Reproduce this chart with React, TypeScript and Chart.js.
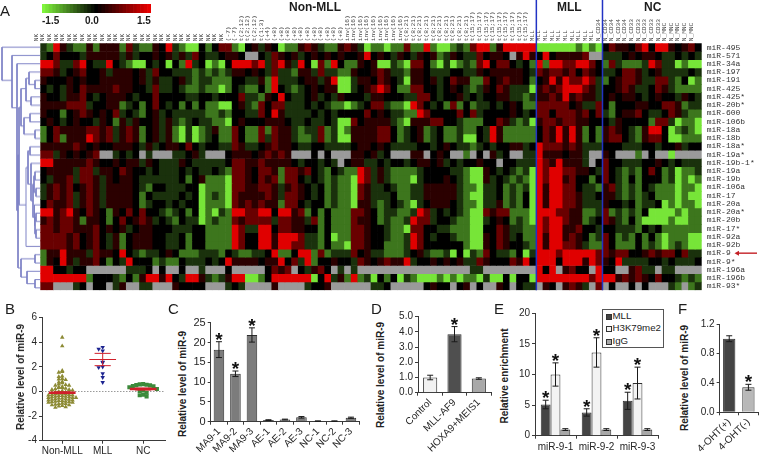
import React, { useEffect, useRef } from "react";
import { Chart, registerables } from "chart.js";

Chart.register(...registerables);
Chart.defaults.font.family = '"Liberation Sans", Arial, sans-serif';
Chart.defaults.color = "#262626";

/* ---------- panel A data ---------- */
const mirNames = ["miR-495", "miR-571", "miR-34a", "miR-197", "miR-191", "miR-425", "miR-425*", "miR-20b*", "miR-600", "miR-106b", "miR-18a", "miR-18b", "miR-18a*", "miR-19a*", "miR-19b-1*", "miR-19a", "miR-19b", "miR-106a", "miR-17", "miR-20a", "miR-20a*", "miR-20b", "miR-17*", "miR-92a", "miR-92b", "miR-9", "miR-9*", "miR-196a", "miR-196b", "miR-93*"];
const columnGroups: [string, number][] = [["NK", 29], ["(-7)", 2], ["t(2;12)", 3], ["t(1;3)", 1], ["(+4)", 1], ["(+8)", 11], ["inv(16)", 9], ["t(8;21)", 10], ["t(15;17)", 9], ["MLL", 10], ["N_CD34", 5], ["N_CD33", 5], ["N_MNC", 5]];
const columnLabels = columnGroups.flatMap(([name, n]) => Array.from({ length: n }, () => name));
// G/g/d = bright, mid, dark green; k = black; m/r/R = dark, mid, bright red; . = missing
const heatLevels: Record<string, number | null> = { G: -1.4, g: -0.72, d: -0.3, k: 0, m: 0.28, r: 0.68, R: 1.45, ".": null };
const heatRows = [
  "dgRmdggmgmmmgrdggmkRdgGGk gkrrgGkmdmkGggmrmdggmrmdGg gGggrggRgGGgdgrRRgmRRRRR GGGGGGgGgG krmmkrRkRRmkmrk",
  "dkrkkkdmmmmmdmdkkmkmdmdrk ddkmmk..kdrmkmdkmkmkmkkmRk mkdmkdmkmgdmkddrkmmk.mRm kRkmmmmr.. dddkmkmmkddkdkd",
  "RRrddrRkddRkdgGGkdkGkgRdk GgGkRRRrRdrRmdRkGrgRkggmkm GGdgGrrkgGdGgdgrRkrrkdkg RgRRrrRRrk grdgggdRrddGgGG",
  "rrmdkmrkkmdmmmkmdrkkdddgd gdgdmmkmkdrddgmmdrddggmkkm rmddgmmkdddkkddmkmmmmmkd rmrrmrkrmk ddkrrmdkmddddkd",
  "mkkkmkmkkmmmmmkmdmddkmdgd dgggkkddmgRdddkmmdmRGGdmmk rmkdGmmkmdkrmmggrkmrmmkg kmRmRrrRrd gkmrrmddrrdgkGg",
  "kdkdmkrmmmmrmmkkdrddkdggd ggGgkdggkgRkdgdkmkmmGGdkmr RrkggrrkkdkmkdgdmkrmdddG mrmrRRRrmd kkmrmddkrmdgggg",
  "mkkdmmrkdkmmmkdkkrkkkkddk kdkkkrddgmkRkddkmdkdmkkkdm mkkkddrrkdkkmdkdkkmmddgd mmrmRmrmmd kmkmmkdkmkkdmkd",
  "mmmmrrrdkkmmgdkgkrkdkgkgk ggGGkmdgrkrrdddkdkdggGgdkr rdggGRrkdkgrgkgddkdkmkgg rrrrrkmddr kgkkkmmkkrrmgdd",
  "mkkgkmrmkmkrdkdgkmdkddddd ggdgkkddrkRmddddkdkdkkkkrk mkddggRrkkkkrkrdkkkkmkdk rrkrrrmrkr dgkmmrkddkrmdgg",
  "kmkdkmkkdmkgmdmkkmdmdgdkd dggGkmkkkmmmkddkddkdGGrkmm mmdgGmmmrrkkdgggkkrmdgdG mrrmrrmmkk kdmkkkkgrrdGggG",
  "gkrmmmmrrmrdmrmgkmdmgGdGg dmggrkggrgrmmdgddrgdGgmmmm rrkgdkmgdkggdggkdRmggggg krmRmRmgkg mrmkdgmRRkGgdgG",
  "gkrgmmmRrmrdmrmgkmdmgGdGg dkggrkggrdrmmdggdrgdGGmmmm rrkgdkmgdkggdGGkdRmggggg krmRmRmgkg mrrkdgmrrkGGggg",
  "mmmmmrmkmkkmmmkdmdkmmkrkd kkddrmddkmrmmkddkkddddkmmk mkddddkkdkmkddgdkdkkmmdk Rrrrmrmddd kkkdddkkdkkmdkk",
  "rrdmkmkmr..dkdk.d...ddkmd ...kmmmkmrmrm...k.k...mmkm dk...mm.kmk..g.k.mdk..dd Rmmmkmmd.. mk...g.k..G....",
  "RRmmmmmrmkkmkmmdmkdddmkdd dddkrrmmrmmmmkdkkdkd.kmmdd kdkkdkmmkmdkdkkmkk.kkddd RrmRmmmd.k rkkdddkkmkdkddd",
  "kmmmmdrrdmmkrmkkdkdddkdkd dkdgrrmkrrmgrrmrkdgkdggRrd mdggggdkkkkddgGGmkdkdgdG RrRRrrmmkd rkdgdgkrkgdGggd",
  "kdmmrdrrmdmkmmkddddddkgkm gggGrrmkrmrgrrkdkdgdggGRrd mdgggGdkkkmkdgGGmdkdgdgG RrRRmrkkgk rkdgkgkkkgdGgGg",
  "dmrmrkmrmdmmmmkdgkkdddkkG gggGrrmmrrmdmrmkdkgdggGrmd dkdggddmmmmmdggGddkgdgdG RmRRrrkddg mrdgdgkdgggGggG",
  "dmrmrdmrmdmmmmkgkddddkdkG gdgGrmmmmrmdrrmkdkgdggGrmd ddkggddmmmmmdgGGddkgdgkG RmRRrrmddk mmdgdgdkgggGgGG",
  "krmmrdmrmdmmmmkgdkkdkdkkG gggGrmrmrmmgrrkdkkgdggGmmd gdkdgGdkmmmkdggGddmgdgkG RmRRrrmddd mkkdkgddkGgGggG",
  "RRmrRmkrmkgmkrkrkkdgdkgkG gGdgRRrrRRkRRmrgkgkgggrrmk gddggdRrdkdkdgGGrmrrgggG RRRrrmmggd rgdgdgkGGGGgGgg",
  "mrmrrmgmmkgkrkmrmdkdgkddG gdggrmrrrrdrrmmdrgkgggrmmk gdggdRrrdkkdggGGdkmkgdgG RrRRrmmgdk rmdgkgGGGGgGGgg",
  "rrmrrmmmrkmkmdkmmkkkdddkk ggggRrddRRkrrmmkkgkgggrrmk kdggGrrkkddgggGGkkrmddgg RrRRmmrkkd kkdddgkdkgggggg",
  "rrrrmrkmrkdmgkmmmkkddkgkk ggggRrkkRRmRRRrddgkGggrrmk kdggdRrkdkkdggGGmkrmdkgg RmRRmrmkgd rkgdgkgkgGgggGG",
  "rrrrmrkmrkdmgkmmmkkddkgkk ggggRrkkRRmRRrrddgkggGrrmk kgggdRrkkkkkkgGGmkrmkkdg RmRRrrmdgg rkgggkgdgGgdgGG",
  "gmmRmmmdrmmkRkdgddkmkgggd ddgkdggddkRggkRRgrgdddrkmd dgggdkmdggdGkGdgrkddgkGd RRRrRRRRRr rmrrkkmrmrrkrdd",
  "gmkRmdmmrkgkdRkkkgdggkddd kdkRmmmmkmmRkrdRgkkmkkdrmk mrmmRdkkmkmkmddrmkkkrmRk RRRkRRRmRr mkRddddkkdkdddk",
  "RRkkdkk......dddk.k..k..d ...k.....krmr.kdmrk.d.d... ..............dd........ RkR.mrkk.R kk..mrdd.dd....",
  "RRRRRRRgkkkdgkgmRRmRkdRRm dgdmRRGGgkRRRRRRGkRdmgRgdG kgkGdgGGGgGgGggGdGGkGkkG RRRRRRRRrR RRmrmrmkrkkdgdg",
  "rr...dk.kk.dm..dd...mkkkk ...dkd....m....dkkm......d dk.....kmkk.km.k..mk.kdd .mk.mrmd.r .k..k.k...dg.gd",
];
const colourBarSteps = [-1.5, -1.4, -1.3, -1.2, -1.1, -1.0, -0.9, -0.8, -0.7, -0.6, -0.5, -0.4, -0.3, -0.2, -0.1, 0, 0.1, 0.2, 0.3, 0.4, 0.5, 0.6, 0.7, 0.8, 0.9, 1.0, 1.1, 1.2, 1.3, 1.4, 1.5];
const clusterDividers = [75, 85];
// dendrogram links: child-a depth, row a, node depth, row b, child-b depth
const dendroLinks = [
  [40, 4, 35, 5, 40], [40, 3, 29, 4.5, 35], [40, 6, 31, 7, 40], [29, 3.75, 26, 6.5, 31],
  [40, 8, 30, 9, 40], [40, 10, 35, 11, 40], [30, 8.5, 24, 10.5, 35], [26, 5, 21, 9.5, 24],
  [40, 12, 30, 13, 40], [40, 15, 35, 16, 40], [40, 17, 36, 18, 40], [35, 15.5, 34, 17.5, 36],
  [40, 20, 36, 21, 40], [40, 22, 36, 23, 40], [36, 20.5, 35, 22.5, 36], [40, 19, 34.5, 21.5, 35],
  [34, 16.5, 33, 20.5, 34.5], [40, 14, 31, 18.5, 33], [30, 12.5, 28, 16.5, 31], [40, 24, 26, 14.5, 28],
  [21, 7.25, 19, 19, 26], [40, 25, 35, 26, 40], [40, 28, 35, 29, 40], [40, 27, 27, 28.5, 35],
  [35, 25.5, 21, 27.7, 27], [19, 13, 18, 26.6, 21], [40, 2, 17, 19.7, 18], [40, 1, 12, 7.3, 17], [40, 0, 2, 4, 12],
];

/* ---------- panel B data ---------- */
const groupNames = ["Non-MLL", "MLL", "NC"];
const nonMllLevels = [4.4, 3.7, 1.7, 1.6, 1.55, 1.25, 1.2, 1.05, 1.0, 0.95, 0.8, 0.75, 0.7, 0.6, 0.55, 0.5, 0.5, 0.4, 0.35, 0.3, 0.3, 0.25, 0.2, 0.15, 0.15, 0.1, 0.05, 0, -0.05, -0.05, -0.1, -0.1, -0.15, -0.15, -0.2, -0.2, -0.25, -0.25, -0.3, -0.3, -0.35, -0.35, -0.4, -0.4, -0.45, -0.45, -0.5, -0.5, -0.5, -0.55, -0.55, -0.6, -0.6, -0.65, -0.65, -0.7, -0.7, -0.75, -0.75, -0.8, -0.8, -0.85, -0.85, -0.9, -0.9, -0.95, -1.0, -1.0, -1.05, -1.1, -1.1, -1.15, -1.2, -1.25, -1.3];
const mllLevels = [3.6, 3.45, 3.3, 2.4, 2.35, 2.0, 1.95, 1.45, 1.15, 0.75];
const ncLevels = [0.6, 0.58, 0.55, 0.52, 0.5, 0.45, 0.42, 0.35, 0.2, 0.1, 0.05, -0.1, -0.25, -0.3, -0.4];
const groupMeans = [-0.1, 2.6, 0.2];
const groupErrors = [0.07, 0.5, 0.08];

/* ---------- panel C data ---------- */
const cLabels = ["MA9-1", "MA9-2", "MA9-3", "AE-1", "AE-2", "AE-3", "NC-1", "NC-2", "NC-3"];
const cValues = [18.2, 12.1, 21.9, 0.4, 0.55, 1.1, 0.15, 0.15, 1.0];
const cErrors = [2.0, 0.7, 1.8, 0.1, 0.1, 0.2, 0.05, 0.05, 0.15];
const cStars = [true, true, true, false, false, false, false, false, false];

/* ---------- panel D data ---------- */
const dLabels = ["Control", "MLL-AF9", "HOXA9+MEIS1"];
const dValues = [1.0, 3.85, 0.93];
const dErrors = [0.15, 0.5, 0.05];
const dStars = [false, true, false];

/* ---------- panel E data ---------- */
const eLabels = ["miR-9-1", "miR-9-2", "miR-9-3"];
const eSeriesNames = ["MLL", "H3K79me2", "IgG"];
const eMll = [5.1, 3.8, 5.7];
const eMllErr = [0.7, 0.6, 1.4];
const eH3k = [10, 13.6, 8.6];
const eH3kErr = [1.9, 2.4, 2.6];
const eIgg = [1, 1, 1];
const eIggErr = [0.15, 0.15, 0.15];

/* ---------- panel F data ---------- */
const fLabels = ["4-OHT(+)", "4-OHT(-)"];
const fValues = [1.0, 0.34];
const fErrors = [0.04, 0.04];
const fStars = [false, true];

/* ---------- helpers ---------- */
const heatColour = (v: number | null) => {
  if (v === null) return "#9a9a9a";
  const t = Math.abs(v) / 1.5;
  return v < 0 ? `rgb(${Math.round(128 * t)},${Math.round(245 * t)},${Math.round(60 * t)})` : `rgb(${Math.round(232 * t)},0,0)`;
};
const swarm = (values: number[], center: number, bin: number, step: number) => {
  const used: Record<string, number> = {};
  return values.map((y) => {
    const key = String(Math.round(y / bin));
    const n = used[key] || 0;
    used[key] = n + 1;
    const side = n % 2 === 0 ? 1 : -1;
    return { x: center + side * Math.ceil(n / 2) * step, y };
  });
};

const errorPlugin = {
  id: "errorStars",
  afterDatasetsDraw(chart: any) {
    const { ctx } = chart;
    const y = chart.scales.y;
    chart.data.datasets.forEach((ds: any, i: number) => {
      if (!ds.errs) return;
      chart.getDatasetMeta(i).data.forEach((bar: any, j: number) => {
        const top = y.getPixelForValue(ds.data[j] + ds.errs[j]);
        const bottom = y.getPixelForValue(ds.data[j] - ds.errs[j]);
        ctx.save();
        ctx.strokeStyle = "#1a1a1a";
        ctx.lineWidth = 1;
        ctx.beginPath();
        ctx.moveTo(bar.x, top);
        ctx.lineTo(bar.x, bottom);
        ctx.moveTo(bar.x - 3, top);
        ctx.lineTo(bar.x + 3, top);
        ctx.moveTo(bar.x - 3, bottom);
        ctx.lineTo(bar.x + 3, bottom);
        ctx.stroke();
        if (ds.stars && ds.stars[j]) {
          ctx.fillStyle = "#111";
          ctx.font = 'bold 19px "Liberation Sans"';
          ctx.textAlign = "center";
          ctx.textBaseline = "alphabetic";
          ctx.fillText("*", bar.x, top + 4);
        }
        ctx.restore();
      });
    });
  },
};

const heatOverlay = {
  id: "heatOverlay",
  afterDatasetsDraw(chart: any) {
    const { ctx, chartArea: a } = chart;
    ctx.save();
    ctx.strokeStyle = "#2233c4";
    ctx.lineWidth = 1.5;
    clusterDividers.forEach((c) => {
      const x = a.left + ((a.right - a.left) * c) / columnLabels.length;
      ctx.beginPath();
      ctx.moveTo(x, 0);
      ctx.lineTo(x, a.bottom);
      ctx.stroke();
    });
    const ay = chart.scales.y.getPixelForValue(mirNames.indexOf("miR-9") + 0.5);
    ctx.strokeStyle = "#c42026";
    ctx.fillStyle = "#c42026";
    ctx.lineWidth = 1.4;
    ctx.beginPath();
    ctx.moveTo(757, ay);
    ctx.lineTo(738, ay);
    ctx.stroke();
    ctx.beginPath();
    ctx.moveTo(734.5, ay);
    ctx.lineTo(739, ay - 2.5);
    ctx.lineTo(739, ay + 2.5);
    ctx.fill();
    ctx.restore();
  },
};

type Box = { x: number; y: number; w: number; h: number; l: number; t: number; r: number; b: number };

const axisGrid = { drawOnChartArea: false, drawTicks: true, tickLength: 3, color: "#3a3a3a" };
const axisBorder = { display: true, color: "#3a3a3a", width: 1 };

function axes(box: Box, yOpts: any, xOpts: any) {
  return {
    x: {
      grid: { ...axisGrid },
      border: axisBorder,
      afterFit: (s: any) => { s.height = box.y + box.h - box.b; },
      ...xOpts,
    },
    y: {
      grid: { ...axisGrid },
      border: axisBorder,
      afterFit: (s: any) => { s.width = box.l - box.x; },
      ...yOpts,
    },
  };
}
const base = (box: Box) => ({
  responsive: false,
  animation: false as const,
  events: [],
  layout: { padding: { top: box.t - box.y, right: box.x + box.w - box.r, left: 0, bottom: 0 } },
  plugins: { legend: { display: false }, tooltip: { enabled: false } },
});

function barSpec(box: Box, labels: string[], datasets: any[], yOpts: any, xTicks: any, barOpts: any) {
  return {
    box,
    config: {
      type: "bar",
      data: { labels, datasets: datasets.map((d) => ({ borderWidth: 1, borderColor: "#2e2e2e", ...barOpts, ...d })) },
      options: { ...base(box), scales: axes(box, yOpts, { ticks: { autoSkip: false, font: { size: 10 }, padding: 1, ...xTicks } }) },
      plugins: [errorPlugin],
    },
  };
}

const rot45 = { minRotation: 45, maxRotation: 45 };
const oneDec = (v: any) => Number(v).toFixed(1);

/* ---------- chart specs ---------- */
const heatBox: Box = { x: 0, y: 0, w: 760, h: 300, l: 40.3, t: 43.3, r: 701.7, b: 291.7 };
const heatSpec = {
  box: heatBox,
  config: {
    type: "bar",
    data: {
      labels: columnLabels,
      datasets: heatRows.map((row) => {
        const levels = row.replace(/ /g, "").split("").map((c) => heatLevels[c]);
        return {
          data: columnLabels.map(() => 1),
          backgroundColor: columnLabels.map((_, i) => heatColour(levels[i] === undefined ? 0 : levels[i])),
          borderWidth: 0,
          barPercentage: 1,
          categoryPercentage: 1,
          yAxisID: "y",
        };
      }),
    },
    options: {
      responsive: false,
      animation: false,
      events: [],
      layout: { padding: { top: 0, left: heatBox.l, right: 0, bottom: 300 - heatBox.b } },
      plugins: { legend: { display: false }, tooltip: { enabled: false } },
      scales: {
        x: {
          stacked: true,
          position: "top",
          grid: { display: false, drawTicks: false },
          border: { display: false },
          afterFit: (s: any) => { s.height = heatBox.t; },
          ticks: { autoSkip: false, minRotation: 90, maxRotation: 90, padding: 2, color: "#444", font: { family: '"Liberation Mono"', size: 6.2 } },
        },
        y: { stacked: true, reverse: true, min: 0, max: mirNames.length, display: false },
        names: {
          type: "category",
          labels: mirNames,
          position: "right",
          offset: true,
          grid: { display: false, drawTicks: false },
          border: { display: false },
          afterFit: (s: any) => { s.width = 760 - heatBox.r; },
          ticks: { autoSkip: false, padding: 5, color: "#333", font: { family: '"Liberation Mono"', size: 8 } },
        },
      },
    },
    plugins: [heatOverlay],
  },
};

const barBox: Box = { x: 42, y: 4, w: 109, h: 9, l: 42, t: 4, r: 151, b: 13 };
const colourBarSpec = {
  box: barBox,
  config: {
    type: "bar",
    data: {
      labels: colourBarSteps.map(String),
      datasets: [{ data: colourBarSteps.map(() => 1), backgroundColor: colourBarSteps.map(heatColour), borderWidth: 0, barPercentage: 1, categoryPercentage: 1 }],
    },
    options: {
      responsive: false,
      animation: false,
      events: [],
      layout: { padding: 0 },
      plugins: { legend: { display: false }, tooltip: { enabled: false } },
      scales: { x: { display: false }, y: { display: false, min: 0, max: 1 } },
    },
  },
};

const dendroBox: Box = { x: 0, y: 43.3, w: 41, h: 248.4, l: 0, t: 43.3, r: 41, b: 291.7 };
const dendroSpec = {
  box: dendroBox,
  config: {
    type: "scatter",
    data: {
      datasets: dendroLinks.map(([a, ra, n, rb, b]) => ({
        data: [{ x: a, y: ra }, { x: n, y: ra }, { x: n, y: rb }, { x: b, y: rb }],
        showLine: true,
        pointRadius: 0,
        borderWidth: 1,
        borderColor: "#7f83c6",
        clip: false,
      })),
    },
    options: {
      responsive: false,
      animation: false,
      events: [],
      layout: { padding: 0 },
      plugins: { legend: { display: false }, tooltip: { enabled: false } },
      scales: { x: { display: false, min: 0, max: 41 }, y: { display: false, reverse: true, min: -0.5, max: 29.5 } },
    },
  },
};

const bBox: Box = { x: 15, y: 305, w: 160, h: 153, l: 42, t: 317.7, r: 165, b: 440.7 };
const markLine = (x1: number, x2: number, y: number, width: number) => ({
  data: [{ x: x1, y }, { x: x2, y }],
  showLine: true,
  pointRadius: 0,
  borderWidth: width,
  borderColor: "#d01f2a",
});
const bSpec = {
  box: bBox,
  config: {
    type: "scatter",
    data: {
      datasets: [
        ...groupMeans.flatMap((m, i) => [
          markLine(i + 1 - 0.33, i + 1 + 0.33, m, i === 1 ? 1.2 : 2.4),
          markLine(i + 1 - 0.2, i + 1 + 0.2, m + groupErrors[i], 1),
          markLine(i + 1 - 0.2, i + 1 + 0.2, m - groupErrors[i], 1),
          { data: [{ x: i + 1, y: m - groupErrors[i] }, { x: i + 1, y: m + groupErrors[i] }], showLine: true, pointRadius: 0, borderWidth: 1, borderColor: "#d01f2a" },
        ]),
        { data: swarm(nonMllLevels, 1, 0.2, 0.085), pointStyle: "triangle", pointRadius: 2.6, backgroundColor: "#8c8a34", borderWidth: 0 },
        { data: swarm(mllLevels, 2, 0.25, 0.1), pointStyle: "triangle", rotation: 180, pointRadius: 2.6, backgroundColor: "#1c2390", borderWidth: 0 },
        { data: swarm(ncLevels, 3, 0.4, 0.085), pointStyle: "rect", pointRadius: 2.9, backgroundColor: "#3b8a3a", borderWidth: 0 },
        { data: [{ x: 0.5, y: 0 }, { x: 3.54, y: 0 }], showLine: true, pointRadius: 0, borderWidth: 1, borderColor: "#9a9a9a", borderDash: [1.5, 1.5] },
      ],
    },
    options: {
      ...base(bBox),
      scales: axes(
        bBox,
        { type: "linear", min: -4, max: 6, ticks: { stepSize: 2, font: { size: 10 }, padding: 2 } },
        {
          type: "linear",
          min: 0.5,
          max: 3.54,
          afterBuildTicks: (s: any) => { s.ticks = groupNames.map((_, i) => ({ value: i + 1 })); },
          ticks: { autoSkip: false, maxRotation: 0, font: { size: 10 }, padding: 2, callback: (v: any) => groupNames[Number(v) - 1] },
        }
      ),
    },
  },
};

const cSpec = barSpec(
  { x: 190, y: 305, w: 177, h: 153, l: 210.7, t: 322.7, r: 359.2, b: 421.7 },
  cLabels,
  [{ data: cValues, errs: cErrors, stars: cStars, backgroundColor: "#7c7c7c" }],
  { min: 0, max: 25, ticks: { stepSize: 5, font: { size: 11 }, padding: 2 } },
  rot45,
  { barPercentage: 0.64, categoryPercentage: 1 }
);

const dSpec = barSpec(
  { x: 388, y: 305, w: 109, h: 153, l: 418, t: 316.7, r: 491, b: 392.7 },
  dLabels,
  [{ data: dValues, errs: dErrors, stars: dStars, backgroundColor: ["#f2f2f2", "#4f4f4f", "#a8a8a8"] }],
  { min: 0, max: 5, ticks: { stepSize: 1, font: { size: 10 }, padding: 2, callback: oneDec } },
  rot45,
  { barPercentage: 0.58, categoryPercentage: 1 }
);

const allStars = [true, true, true];
const noStars = [false, false, false];
const eBox: Box = { x: 512, y: 305, w: 153, h: 153, l: 535, t: 313.3, r: 658, b: 435.7 };
const eSpec = barSpec(
  eBox,
  eLabels,
  [
    { data: eMll, errs: eMllErr, stars: allStars, backgroundColor: "#444444" },
    { data: eH3k, errs: eH3kErr, stars: allStars, backgroundColor: "#f3f3f3" },
    { data: eIgg, errs: eIggErr, stars: noStars, backgroundColor: "#a8a8a8" },
  ],
  { min: 0, max: 20, ticks: { stepSize: 5, font: { size: 10 }, padding: 2 } },
  { maxRotation: 0, padding: 3 },
  { barPercentage: 1, categoryPercentage: 0.72 }
);

const fSpec = barSpec(
  { x: 692, y: 305, w: 68, h: 153, l: 716.7, t: 324, r: 758, b: 412.3 },
  fLabels,
  [{ data: fValues, errs: fErrors, stars: fStars, backgroundColor: ["#444444", "#b8b8b8"] }],
  { min: 0, max: 1.2, ticks: { stepSize: 0.2, font: { size: 10 }, padding: 2, callback: oneDec } },
  rot45,
  { barPercentage: 0.64, categoryPercentage: 1 }
);

const specs: any[] = [heatSpec, colourBarSpec, dendroSpec, bSpec, cSpec, dSpec, eSpec, fSpec];

/* ---------- components ---------- */
function ChartCanvas({ spec }: { spec: any }) {
  const ref = useRef<HTMLCanvasElement>(null);
  useEffect(() => {
    const chart = new Chart(ref.current as HTMLCanvasElement, spec.config);
    return () => chart.destroy();
  }, [spec]);
  const { x, y, w, h } = spec.box;
  return <canvas ref={ref} width={w} height={h} style={{ position: "absolute", left: x, top: y, width: w, height: h }} />;
}

const textFont = '"Liberation Sans", Arial, sans-serif';
function Text({ x, y, size = 15, bold = false, children }: any) {
  return (
    <span style={{ position: "absolute", left: x, top: y, fontSize: size, fontWeight: bold ? 700 : 400, lineHeight: 1, color: "#1c1c1c", whiteSpace: "nowrap", fontFamily: textFont }}>
      {children}
    </span>
  );
}
function YTitle({ x, y, children }: any) {
  return (
    <span style={{ position: "absolute", left: x, top: y, transform: "translate(-50%, -50%) rotate(-90deg)", fontSize: 10, fontWeight: 700, lineHeight: 1, color: "#222", whiteSpace: "nowrap", fontFamily: textFont }}>
      {children}
    </span>
  );
}

const legendSwatches = ["#444444", "#f3f3f3", "#a8a8a8"];
const legendRows = [316, 328.3, 341];

export default function App() {
  return (
    <div style={{ position: "absolute", left: 0, top: 0, width: 760, height: 458, overflow: "hidden", background: "#fff", filter: "blur(0.35px)" }}>
      {specs.map((s, i) => <ChartCanvas key={i} spec={s} />)}
      <Text x={0} y={3}>A</Text>
      <Text x={5} y={301}>B</Text>
      <Text x={168} y={301}>C</Text>
      <Text x={371} y={301}>D</Text>
      <Text x={494} y={301}>E</Text>
      <Text x={678} y={301}>F</Text>
      <Text x={289} y={1} size={12} bold>Non-MLL</Text>
      <Text x={557} y={1} size={12} bold>MLL</Text>
      <Text x={644} y={1} size={12} bold>NC</Text>
      <Text x={42} y={16} size={10} bold>-1.5</Text>
      <Text x={85} y={16} size={10} bold>0.0</Text>
      <Text x={137} y={16} size={10} bold>1.5</Text>
      <YTitle x={20.7} y={377}>Relative level of miR-9</YTitle>
      <YTitle x={182.7} y={384}>Relative level of miR-9</YTitle>
      <YTitle x={380.7} y={375}>Relative level of miR-9</YTitle>
      <YTitle x={505} y={376}>Relative enrichment</YTitle>
      <YTitle x={685} y={378}>Relative level of miR-9</YTitle>
      <div style={{ position: "absolute", left: 602, top: 309, width: 60, height: 37, border: "1px solid #555", background: "#fff" }} />
      {eSeriesNames.map((n, i) => (
        <React.Fragment key={n}>
          <div style={{ position: "absolute", left: 606, top: legendRows[i] - 2.5, width: 4, height: 4, border: "1px solid #333", background: legendSwatches[i] }} />
          <Text x={612.5} y={legendRows[i] - 5} size={9.7}>{n}</Text>
        </React.Fragment>
      ))}
    </div>
  );
}
